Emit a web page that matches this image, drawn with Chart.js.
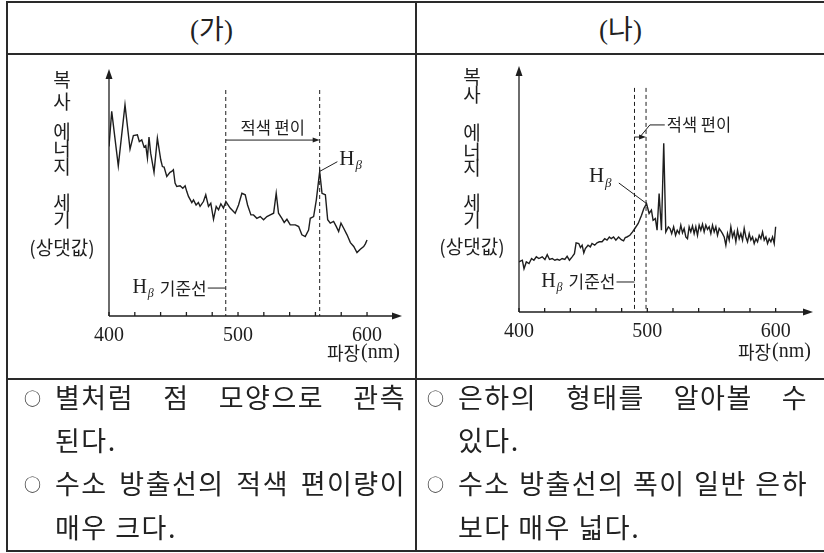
<!DOCTYPE html>
<html>
<head>
<meta charset="utf-8">
<script src="https://cdn.jsdelivr.net/npm/chart.js@4.4.0/dist/chart.umd.min.js"></script>
<style>
  html, body { margin: 0; padding: 0; background: #fff; }
  #page { position: relative; width: 824px; height: 553px; overflow: hidden;
          font-family: "Noto Sans CJK KR", sans-serif; color: #222; }
  .hl { position: absolute; height: 2px; background: #2a2a2a; }
  .vl { position: absolute; width: 2px; background: #2a2a2a; }
  .head { position: absolute; top: 3px; height: 50px; line-height: 50px; text-align: center; font-size: 27px; }
  .head .p { font-family: "Liberation Serif", serif; }
  canvas { position: absolute; }
  .ln { position: absolute; font-size: 27px; line-height: 30px; white-space: nowrap; letter-spacing: 1.5px; }
  .ln .c { display: inline-block; width: 31px; font-size: 17px; position: relative; top: -3px; text-align: left; text-align-last: left; }
  .just { text-align: justify; text-align-last: justify; }
</style>
</head>
<body>
<div id="page">
  <div class="hl" style="left:7px;top:1px;width:817px"></div>
  <div class="hl" style="left:7px;top:53px;width:817px"></div>
  <div class="hl" style="left:7px;top:378px;width:817px"></div>
  <div class="hl" style="left:7px;top:550px;width:817px"></div>
  <div class="vl" style="left:6px;top:1px;height:551px"></div>
  <div class="vl" style="left:415px;top:1px;height:551px"></div>

  <div class="head" style="left:8px;width:407px"><span class="p">(</span>가<span class="p">)</span></div>
  <div class="head" style="left:417px;width:407px"><span class="p">(</span>나<span class="p">)</span></div>

  <canvas id="chartA" width="407" height="323" style="left:8px;top:55px"></canvas>
  <canvas id="chartB" width="407" height="323" style="left:417px;top:55px"></canvas>
  <div id="notes"></div>
</div>

<script>
// (가) spectrum: wavelength (nm) and relative intensity
const waveA = [400.0, 402.1, 407.2, 412.4, 416.3, 418.9, 422.0, 423.5, 425.4, 427.2, 428.5, 429.8, 431.0, 432.3,
  434.9, 437.5, 440.1, 441.4, 442.7, 444.8, 447.3, 448.6, 449.9, 451.2, 452.5, 455.1, 457.2, 459.0, 460.3, 461.6,
  464.2, 465.5, 467.5, 469.3, 470.6, 473.2, 475.0, 477.1, 478.9, 481.0, 483.1, 484.9, 486.7, 488.7, 490.6, 493.9,
  497.8, 500.4, 503.0, 505.6, 507.4, 510.0, 512.0, 514.6, 517.2, 519.8, 522.4, 525.0, 527.6, 529.6, 531.4, 534.0,
  535.8, 537.9, 540.5, 544.4, 547.0, 549.5, 552.1, 554.7, 556.0, 558.6, 560.7, 563.3, 565.1, 567.7, 569.5, 571.5,
  574.1, 576.2, 578.0, 579.8, 581.9, 584.5, 587.1, 589.7, 592.2, 594.8, 597.4, 598.7, 600.0];
const intensA = [69.8, 84.2, 61.8, 86.9, 68.7, 74.2, 74.6, 71.8, 72.5, 69.5, 70.1, 65.0, 73.6, 67.0,
  59.1, 73.2, 64.3, 61.5, 61.3, 57.4, 59.1, 59.5, 60.2, 54.7, 53.3, 53.6, 52.6, 53.6, 51.2, 49.2,
  46.7, 47.8, 45.7, 46.7, 45.1, 47.1, 49.9, 45.1, 46.4, 39.8, 45.1, 43.7, 46.2, 44.4, 47.1, 44.4,
  42.3, 45.7, 50.5, 49.9, 45.7, 41.6, 41.6, 40.2, 40.9, 39.6, 40.9, 41.6, 42.3, 50.5, 42.3, 40.2,
  38.5, 39.8, 37.5, 37.5, 36.8, 33.4, 32.7, 35.4, 40.2, 40.9, 47.8, 59.5, 50.5, 49.9, 39.6, 38.2,
  38.9, 36.8, 34.8, 38.2, 36.1, 33.4, 30.2, 28.6, 26.1, 27.5, 28.6, 29.7, 31.3];

// (나) spectrum
const waveB = [400.0, 402.6, 403.9, 405.7, 407.8, 409.8, 411.6, 413.5, 415.5, 418.1, 420.2, 422.0, 423.8, 425.9,
  427.9, 429.8, 431.6, 433.6, 435.7, 437.5, 439.3, 441.4, 443.2, 444.5, 446.6, 447.9, 449.2, 450.5, 451.7, 453.8,
  455.6, 456.9, 459.0, 460.8, 462.6, 464.7, 466.8, 468.6, 470.4, 471.9, 473.7, 475.5, 477.6, 479.7, 481.5, 482.8,
  484.1, 486.4, 488.5, 490.3, 492.9, 495.5, 497.3, 499.4, 501.4, 503.2, 504.5, 506.3, 507.6, 509.2, 511.0, 512.8,
  514.4, 516.4, 517.7, 519.0, 520.5, 522.0, 523.3, 524.8, 526.1, 527.4, 528.7, 530.0, 531.3, 532.6, 533.9, 535.2,
  536.5, 537.8, 539.1, 540.4, 541.7, 543.0, 544.3, 545.6, 546.9, 548.2, 549.5, 550.8, 552.1, 553.4, 554.7, 556.0,
  557.3, 558.6, 559.9, 561.2, 562.5, 563.8, 565.1, 566.4, 567.7, 569.0, 570.3, 571.6, 572.9, 574.2, 575.5, 576.8,
  578.1, 579.4, 580.7, 582.0, 583.3, 584.6, 585.9, 587.2, 588.5, 589.8, 591.1, 592.4, 593.7, 595.0, 596.3, 597.6,
  598.9, 600.0];
const intensB = [20.7, 21.4, 17.9, 20.7, 20.0, 22.1, 21.4, 22.8, 22.1, 22.8, 21.7, 23.7, 21.7, 22.1,
  21.4, 21.8, 21.4, 22.1, 21.7, 23.0, 21.4, 22.8, 24.1, 28.6, 28.3, 26.6, 27.6, 24.4, 26.2, 27.6,
  26.9, 28.3, 27.6, 28.6, 29.0, 29.0, 30.3, 29.7, 31.0, 30.3, 31.0, 29.7, 31.0, 29.9, 29.4, 30.8,
  31.0, 31.7, 33.1, 34.5, 36.6, 40.0, 42.8, 44.8, 40.7, 42.1, 37.9, 38.6, 33.8, 49.0, 33.8, 69.7,
  33.1, 35.2, 34.5, 32.4, 35.2, 31.7, 33.8, 32.4, 35.9, 32.7, 34.5, 31.0, 30.3, 35.2, 33.1, 35.6,
  32.4, 35.2, 31.7, 35.9, 33.8, 36.3, 33.1, 35.9, 34.1, 35.2, 32.4, 35.9, 33.1, 35.2, 31.7, 34.5,
  33.5, 32.4, 31.0, 27.6, 32.4, 29.7, 35.2, 31.0, 33.1, 29.0, 33.8, 30.3, 32.4, 29.7, 34.5, 31.0,
  29.0, 32.4, 29.7, 31.0, 28.3, 30.3, 29.0, 31.7, 30.3, 33.1, 29.7, 31.0, 28.3, 30.3, 29.0, 31.0,
  28.3, 35.2];

const tickLabels = [400, 500, 600];
const tickMarks = [400, 420, 440, 460, 480, 500, 520, 540, 560, 580, 600];
const yLabelParts = ['복', '사', '에', '너', '지', '세', '기', '(상댓값)'];
const shiftA = [490.5, 563.3];   // Hβ 기준선, 관측된 Hβ
const shiftB = [490, 499];

const notesA = ['○ 별처럼 점 모양으로 관측', '된다.', '○ 수소 방출선의 적색 편이량이', '매우 크다.'];
const notesB = ['○ 은하의 형태를 알아볼 수', '있다.', '○ 수소 방출선의 폭이 일반 은하', '보다 매우 넓다.'];

const INK = '#1e1e1e';
const SANS = '"Noto Sans CJK KR", sans-serif';
const SERIF = '"Liberation Serif", "DejaVu Serif", serif';

function seg(ctx, x1, y1, x2, y2) {
  ctx.beginPath(); ctx.moveTo(x1, y1); ctx.lineTo(x2, y2); ctx.stroke();
}
function head(ctx, x, y, dir, len, w) {
  ctx.beginPath();
  if (dir === 'up') { ctx.moveTo(x, y); ctx.lineTo(x - w, y + len); ctx.lineTo(x + w, y + len); }
  else { ctx.moveTo(x, y); ctx.lineTo(x - len, y - w); ctx.lineTo(x - len, y + w); }
  ctx.closePath(); ctx.fill();
}
// H with subscript beta, left edge at x, vertical middle at y
function hBeta(ctx, x, y, size) {
  ctx.textAlign = 'left'; ctx.textBaseline = 'middle';
  ctx.font = size + 'px ' + SERIF;
  ctx.fillText('H', x, y);
  const wH = ctx.measureText('H').width;
  ctx.font = 'italic ' + Math.round(size * 0.62) + 'px ' + SERIF;
  ctx.fillText('β', x + wH + 1, y + size * 0.3);
}

const decor = {
  id: 'decor',
  afterDatasetsDraw(chart, args, o) {
    const { ctx, chartArea: a, scales: { x, y } } = chart;
    const px = v => x.getPixelForValue(v), py = v => y.getPixelForValue(v);
    ctx.save();
    ctx.strokeStyle = INK; ctx.fillStyle = INK;

    // axes with arrows
    ctx.lineWidth = 1.3;
    const x0 = px(400), y0 = py(0);
    seg(ctx, x0, y0, x0, a.top + 4); head(ctx, x0, a.top - 4, 'up', 10, 3.5);
    seg(ctx, x0, y0, a.right - 4, y0); head(ctx, a.right + 4, y0, 'right', 10, 3.5);
    tickMarks.forEach(t => seg(ctx, px(t), y0, px(t), y0 - 4));

    // y-axis title
    ctx.font = '19px ' + SANS; ctx.textAlign = 'center'; ctx.textBaseline = 'middle';
    yLabelParts.forEach((s, i) => ctx.fillText(s, o.yLabelX, o.yLabelY[i]));

    // x-axis title 파장(nm)
    ctx.textAlign = 'right'; ctx.textBaseline = 'middle';
    ctx.font = '20px ' + SERIF;
    ctx.fillText('(nm)', a.right + 2, o.xTitleY);
    const wNm = ctx.measureText('(nm)').width;
    ctx.font = '18px ' + SANS;
    ctx.fillText('파장', a.right + 1 - wNm, o.xTitleY);

    // dashed reference lines
    ctx.lineWidth = 1; ctx.setLineDash([4, 3]);
    o.shift.forEach(v => seg(ctx, px(v), py(o.dashTop), px(v), y0));
    ctx.setLineDash([]);

    // red-shift arrow
    const ya = py(o.arrowY);
    seg(ctx, px(o.shift[0]), ya, px(o.shift[1]) - 5, ya);
    head(ctx, px(o.shift[1]), ya, 'right', 7, 2.5);

    // 적색 편이 label
    ctx.font = '16.5px ' + SANS; ctx.textBaseline = 'middle';
    if (o.shiftLeader) {
      const L = o.shiftLeader;
      ctx.beginPath();
      ctx.moveTo(px(L[0][0]), py(L[0][1]));
      ctx.lineTo(px(L[1][0]), py(L[1][1]));
      ctx.lineTo(px(L[2][0]), py(L[2][1]));
      ctx.stroke();
      ctx.textAlign = 'left';
      ctx.fillText('적색 편이', px(L[2][0]) + 2, py(L[2][1]));
    } else {
      ctx.textAlign = 'center';
      ctx.fillText('적색 편이', (px(o.shift[0]) + px(o.shift[1])) / 2, py(o.shiftText));
    }

    // Hβ label with leader
    const hl = o.hLeader;
    seg(ctx, px(hl[0][0]), py(hl[0][1]), px(hl[1][0]), py(hl[1][1]));
    hBeta(ctx, px(o.hText[0]), py(o.hText[1]), 21);

    // Hβ 기준선 —
    const xr = px(o.shift[0]), yb = py(o.baseY);
    seg(ctx, xr - 18, yb, xr, yb);
    ctx.font = '17px ' + SANS; ctx.textAlign = 'right'; ctx.textBaseline = 'middle';
    ctx.fillText('기준선', xr - 19, yb);
    const wK = ctx.measureText('기준선').width;
    ctx.font = '20px ' + SERIF;
    const wH = ctx.measureText('H').width;
    ctx.font = 'italic 12px ' + SERIF;
    const wB = ctx.measureText('β').width;
    hBeta(ctx, xr - 19 - wK - 6 - wB - 1 - wH, yb, 20);

    ctx.restore();
  }
};

function makeChart(id, wave, inten, xMax, pad, o) {
  return new Chart(document.getElementById(id), {
    type: 'line',
    data: {
      datasets: [{
        data: wave.map((w, i) => ({ x: w, y: inten[i] })),
        borderColor: INK, borderWidth: 1.4, pointRadius: 0, tension: 0, fill: false
      }]
    },
    options: {
      responsive: false, animation: false,
      layout: { padding: pad },
      plugins: { legend: { display: false }, tooltip: { enabled: false }, decor: o },
      scales: {
        x: {
          type: 'linear', min: 400, max: xMax,
          grid: { display: false, drawTicks: false }, border: { display: false },
          afterBuildTicks: s => { s.ticks = tickLabels.map(v => ({ value: v })); },
          afterFit: s => { s.height = 30; },
          ticks: { autoSkip: false, maxRotation: 0, padding: 8, color: INK,
                   font: { family: SERIF, size: 20 } }
        },
        y: { min: 0, max: 100, display: false }
      }
    },
    plugins: [decor]
  });
}

makeChart('chartA', waveA, intensA, 624, { left: 101, top: 18, right: 17, bottom: 32 }, {
  yLabelX: 54, yLabelY: [25, 47, 77, 94, 112, 148, 165, 193], xTitleY: 298,
  shift: shiftA, dashTop: 93, arrowY: 72.4, shiftText: 77.4,
  hLeader: [[563.3, 59.5], [577, 63.5]], hText: [578.5, 64.5], baseY: 11.5
});

makeChart('chartB', waveB, intensB, 626, { left: 102, top: 15, right: 15, bottom: 36 }, {
  yLabelX: 55, yLabelY: [22, 40, 78, 97, 113, 148, 165, 192], xTitleY: 297,
  shift: shiftB, dashTop: 92.6, arrowY: 72.3,
  shiftLeader: [[494.2, 72.3], [502, 77.3], [513.6, 77.3]],
  hLeader: [[477.8, 53.3], [499.4, 44.8]], hText: [454.5, 55.8], baseY: 12.4
});

// bottom row notes
const lineY = [382, 425, 468, 512];
function addNotes(list, left, width, indent) {
  const box = document.getElementById('notes');
  list.forEach((t, i) => {
    const d = document.createElement('div');
    const first = t.startsWith('○');
    d.className = 'ln' + (first ? ' just' : '');
    d.innerHTML = first ? '<span class="c">○</span>' + t.slice(2) : t;
    d.style.top = lineY[i] + 'px';
    d.style.left = (first ? left : left + indent) + 'px';
    if (first) d.style.width = width + 'px';
    box.appendChild(d);
  });
}
addNotes(notesA, 24, 382, 31);
addNotes(notesB, 427, 381, 31);
</script>
</body>
</html>
